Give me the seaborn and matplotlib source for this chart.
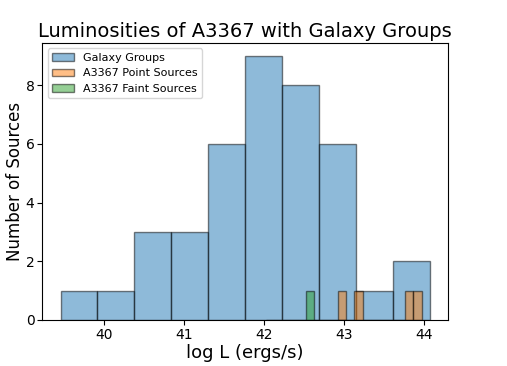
import matplotlib

matplotlib.use("Agg")
import matplotlib.pyplot as plt
import seaborn as sns

# log luminosities
galaxy_groups = [
    39.46,
    40.15,
    40.45, 40.60, 40.75,
    40.95, 41.10, 41.20,
    41.35, 41.45, 41.50, 41.60, 41.65, 41.72,
    41.80, 41.85, 41.90, 41.95, 42.00, 42.05, 42.10, 42.15, 42.20,
    42.27, 42.30, 42.35, 42.40, 42.45, 42.50, 42.58, 42.65,
    42.72, 42.80, 42.88, 42.95, 43.05, 43.10,
    43.40,
    43.85, 44.07,
]
point_sources = [42.92, 43.18, 43.82, 43.97]
faint_sources = [42.52]

fig, ax = plt.subplots(figsize=(5.07, 3.66), dpi=100)

edge = (0, 0, 0, 0.5)
sns.histplot(x=galaxy_groups, bins=10, color="C0", alpha=0.5, edgecolor=edge,
             linewidth=1, label="Galaxy Groups", ax=ax)
sns.histplot(x=point_sources, bins=10, color="C1", alpha=0.5, edgecolor=edge,
             linewidth=1, label="A3367 Point Sources", ax=ax)
sns.histplot(x=faint_sources, bins=10, color="C2", alpha=0.5, edgecolor=edge,
             linewidth=1, label="A3367 Faint Sources", ax=ax)

ax.margins(x=0.05, y=0.05)
ax.set_ylim(0, 9.45)
ax.set_xticks([40, 41, 42, 43, 44])
ax.set_yticks([0, 2, 4, 6, 8])
ax.tick_params(labelsize=10, pad=2)
ax.set_title("Luminosities of A3367 with Galaxy Groups", fontsize=14, pad=4)
ax.set_xlabel("log L (ergs/s)", fontsize=13, labelpad=2)
ax.set_ylabel("Number of Sources", fontsize=12, labelpad=1)
ax.legend(loc="upper left", fontsize=8)

fig.subplots_adjust(left=0.083, right=0.884, top=0.883, bottom=0.126)
fig.savefig("out.png", dpi=100)
